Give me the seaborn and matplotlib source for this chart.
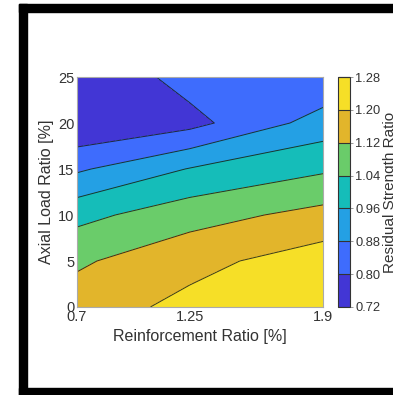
import numpy as np
import pandas as pd
import seaborn as sns
import matplotlib
matplotlib.use("Agg")
import matplotlib.pyplot as plt
from matplotlib.colors import ListedColormap, BoundaryNorm
from matplotlib.patches import Rectangle

# Data
reinforcement = [0.7, 1.25, 1.9]
axial_load = [0, 5, 10, 15, 20, 25]
ratio_07 = [1.159, 1.108, 1.016, 0.868, 0.726, 0.722]
ratio_125 = [1.222, 1.176, 1.087, 0.964, 0.774, 0.833]
ratio_19 = [1.270, 1.240, 1.146, 1.028, 0.915, 0.812]
levels = [0.72, 0.80, 0.88, 0.96, 1.04, 1.12, 1.20, 1.28]
band_colors = ["#4236d5", "#3e6cfd", "#24a0e4", "#15bdb9", "#6acc6a", "#e2b52b", "#f6df27"]

df = pd.DataFrame({0.7: ratio_07, 1.25: ratio_125, 1.9: ratio_19}, index=axial_load)

sns.set_theme(style="white")
plt.rcParams['font.family'] = ['Liberation Sans', 'DejaVu Sans']

fig = plt.figure(figsize=(3.93, 3.95), dpi=100)
ax = fig.add_axes([0.196, 0.2228, 0.626, 0.5822])
cax = fig.add_axes([0.860, 0.2228, 0.031, 0.5822])

cmap = ListedColormap(sns.color_palette(band_colors))
norm = BoundaryNorm(levels, cmap.N)
X, Y = np.meshgrid(df.columns.values.astype(float), df.index.values.astype(float))
Z = df.values
cf = ax.contourf(X, Y, Z, levels=levels, cmap=cmap, norm=norm)
cl = ax.contour(X, Y, Z, levels=levels, colors="#1a1a1a", linewidths=0.7, alpha=0.85)

ax.set_xlim(0.7, 1.9)
ax.set_ylim(0, 25)
ax.set_xticks(reinforcement)
ax.set_xticklabels(["0.7", "1.25", "1.9"])
ax.set_yticks([0, 5, 10, 15, 20, 25])
ax.tick_params(axis="both", length=0, pad=2, labelsize=10.5, colors="#333333")
for s in ax.spines.values():
    s.set_color("#aaaaaa")
    s.set_linewidth(0.8)
ax.set_xlabel("Reinforcement Ratio [%]", fontsize=11.5, color="#333333", labelpad=4)
ax.set_ylabel("Axial Load Ratio [%]", fontsize=11.5, color="#333333", labelpad=3)

cb = fig.colorbar(cf, cax=cax, ticks=levels)
cb.ax.set_yticklabels([f"{v:.2f}" for v in levels])
cb.ax.tick_params(length=2.5, width=0.6, color="#888888", labelsize=9.3, labelcolor="#333333", pad=1)
cb.outline.set_edgecolor("#333333")
cb.outline.set_linewidth(0.8)
cb.add_lines(levels, ["#333333"] * len(levels), [0.8] * len(levels))
cb.set_label("Residual Strength Ratio", fontsize=11, color="#333333", labelpad=2)

# black frame
fig.patches.append(Rectangle((19/393, 0), 8/393, 391/395, transform=fig.transFigure, color="black", zorder=-1))
fig.patches.append(Rectangle((19/393, 383/395), 374/393, 8/395, transform=fig.transFigure, color="black", zorder=-1))
fig.patches.append(Rectangle((19/393, 0), 374/393, 7/395, transform=fig.transFigure, color="black", zorder=-1))

fig.savefig("out.png", dpi=100, facecolor="white")
